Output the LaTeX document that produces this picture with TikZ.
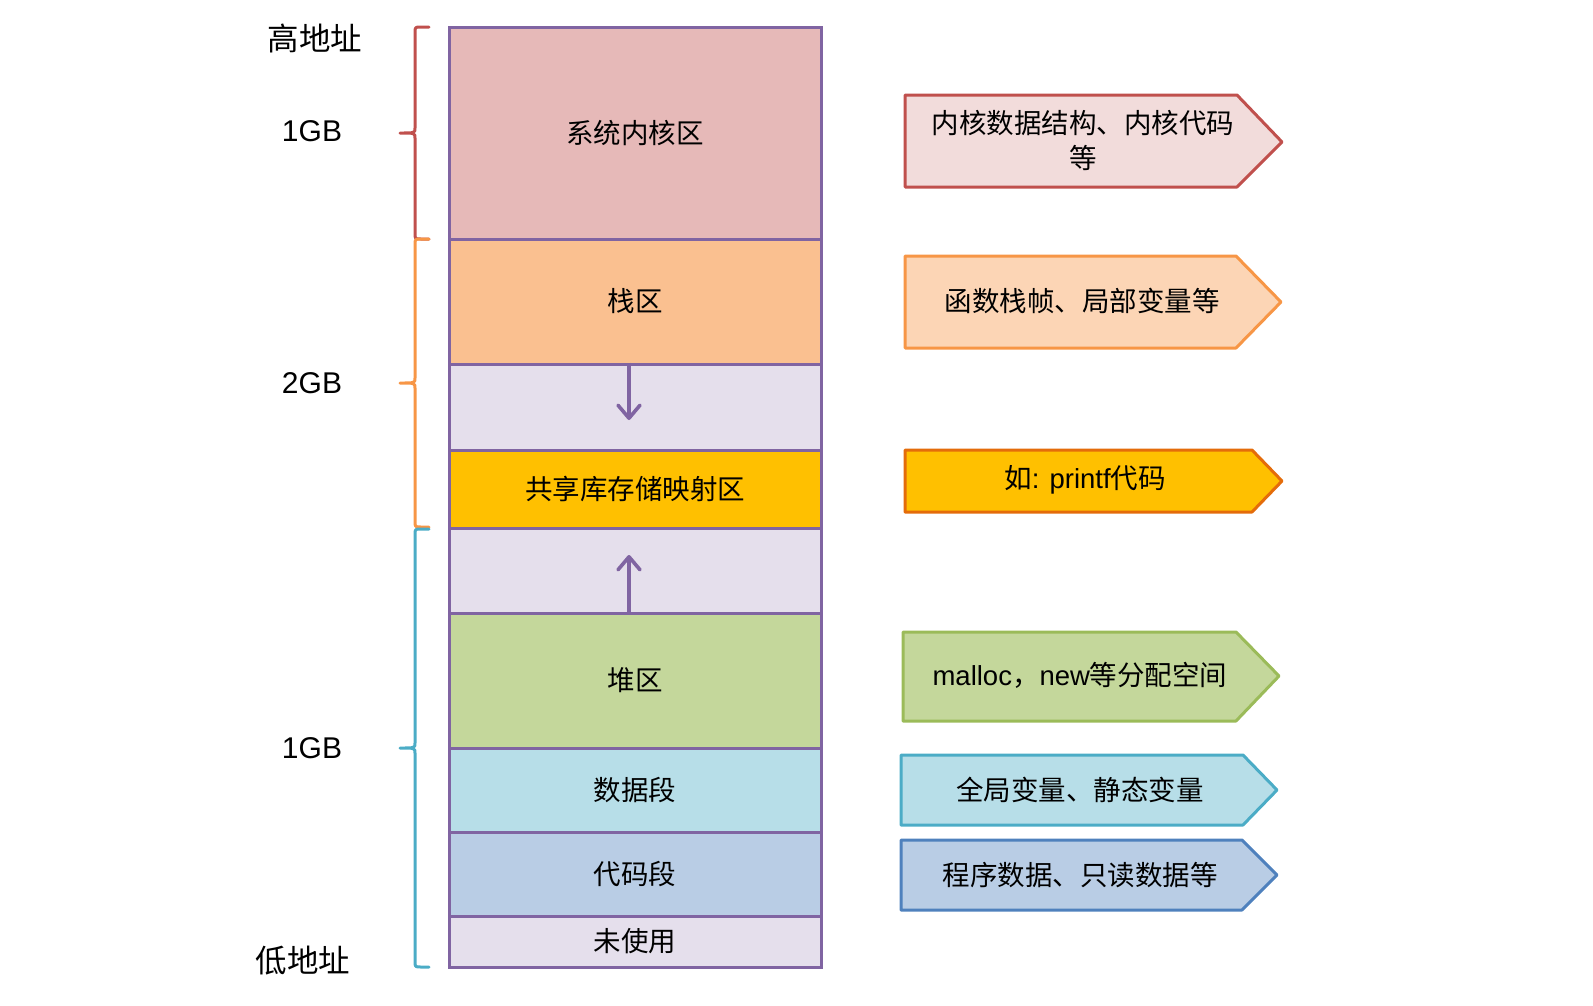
\documentclass[tikz,border=0pt]{standalone}
\usepackage{fontspec}
\setmainfont{Noto Sans CJK SC}
\newfontfamily\latf{Liberation Sans}
\usetikzlibrary{arrows.meta}
\definecolor{bordc}{HTML}{8064A2}
\definecolor{kernf}{HTML}{E6B9B8}
\definecolor{stackf}{HTML}{FAC090}
\definecolor{gapf}{HTML}{E5DFEC}
\definecolor{sharef}{HTML}{FFC000}
\definecolor{heapf}{HTML}{C4D79B}
\definecolor{dataf}{HTML}{B7DEE8}
\definecolor{codef}{HTML}{B9CDE5}
\definecolor{redl}{HTML}{C0504D}
\definecolor{redf}{HTML}{F2DCDB}
\definecolor{orgl}{HTML}{F79646}
\definecolor{orgf}{HTML}{FCD5B5}
\definecolor{yell}{HTML}{E46C0A}
\definecolor{grnl}{HTML}{9BBB59}
\definecolor{cyal}{HTML}{4BACC6}
\definecolor{blul}{HTML}{4F81BD}
\tikzset{
  membox/.style={draw=bordc, line width=3pt, minimum width=372pt, inner sep=0pt, font=\fontsize{27.5}{30}\selectfont},
  sidearrow/.style={line width=3pt, line join=round},
  sidetext/.style={font=\fontsize{27.5}{35}\selectfont, align=center, inner sep=0pt},
  leftlab/.style={font=\fontsize{31.5}{34}\selectfont, inner sep=0pt},
  gblab/.style={font=\latf\fontsize{30}{34}\selectfont, inner sep=0pt},
  growarrow/.style={draw=bordc, line width=3.3pt, -{Straight Barb[length=13pt,width=22pt,round,line width=3.6pt]}},
  bracepath/.style={line width=3pt, line cap=round, line join=round}
}
\newcommand\membrace[4]{%
  \draw[bracepath, #1] (429,#2) -- (421,#2) .. controls (415,#2) .. (415,#2+6)
    -- (415,#3-5) .. controls (415,#3) .. (400,#3)
    .. controls (415,#3) .. (415,#3+5) -- (415,#4-6)
    .. controls (415,#4) .. (421,#4) -- (429,#4);}
\begin{document}
\begin{tikzpicture}[x=1pt,y=-1pt]
\useasboundingbox (0,0) rectangle (1593,1005);
% memory column
\node[membox, fill=kernf, minimum height=212pt] (kernel) at (635,133) {系统内核区};
\node[membox, fill=stackf, minimum height=125pt] (stack) at (635,301.5) {栈区};
\node[membox, fill=gapf, minimum height=86pt] (gapa) at (635,407) {};
\node[membox, fill=sharef, minimum height=78pt] (shared) at (635,489) {共享库存储映射区};
\node[membox, fill=gapf, minimum height=85pt] (gapb) at (635,570.5) {};
\node[membox, fill=heapf, minimum height=135pt] (heap) at (635,680.5) {堆区};
\node[membox, fill=dataf, minimum height=84pt] (data) at (635,790) {数据段};
\node[membox, fill=codef, minimum height=84pt] (code) at (635,874) {代码段};
\node[membox, fill=gapf, minimum height=51pt] (unused) at (635,941.5) {未使用};
% growth arrows
\coordinate (downend) at (629,420);
\coordinate (upend) at (629,555);
\draw[growarrow] (gapa.north -| downend) -- (downend);
\draw[growarrow] (gapb.south -| upend) -- (upend);
% braces
\membrace{redl}{27}{133}{239}
\membrace{orgl}{239}{383}{527}
\membrace{cyal}{529}{748}{967}
% left labels
\node[leftlab] (high) at (315,38) {高地址};
\node[gblab] (gba) at (312,131) {1GB};
\node[gblab] (gbb) at (312,383) {2GB};
\node[gblab] (gbc) at (312,748) {1GB};
\node[leftlab] (low) at (303,961) {低地址};
% side arrows
\draw[sidearrow, draw=redl, fill=redf] (905,95) -- (1237,95) -- (1282,142) -- (1237,187) -- (905,187) -- cycle;
\node[sidetext] (tkern) at (1083,140) {内核数据结构、内核代码\\等};
\draw[sidearrow, draw=orgl, fill=orgf] (905,256) -- (1236,256) -- (1281,302) -- (1236,348) -- (905,348) -- cycle;
\node[sidetext] (tstack) at (1082,301) {函数栈帧、局部变量等};
\draw[sidearrow, draw=yell, fill=sharef] (905,450) -- (1252,450) -- (1282,481) -- (1252,512) -- (905,512) -- cycle;
\node[sidetext] (tshare) at (1085,480) {如{\latf : printf}代码};
\draw[sidearrow, draw=grnl, fill=heapf] (903,632) -- (1236,632) -- (1279,676) -- (1236,721) -- (903,721) -- cycle;
\node[sidetext] (theap) at (1080,675) {{\latf malloc}，{\latf new}等分配空间};
\draw[sidearrow, draw=cyal, fill=dataf] (901,755) -- (1243,755) -- (1277,790) -- (1243,825) -- (901,825) -- cycle;
\node[sidetext] (tdata) at (1080,790) {全局变量、静态变量};
\draw[sidearrow, draw=blul, fill=codef] (901,840) -- (1242,840) -- (1277,875) -- (1242,910) -- (901,910) -- cycle;
\node[sidetext] (tcode) at (1080,875) {程序数据、只读数据等};
\end{tikzpicture}
\end{document}
